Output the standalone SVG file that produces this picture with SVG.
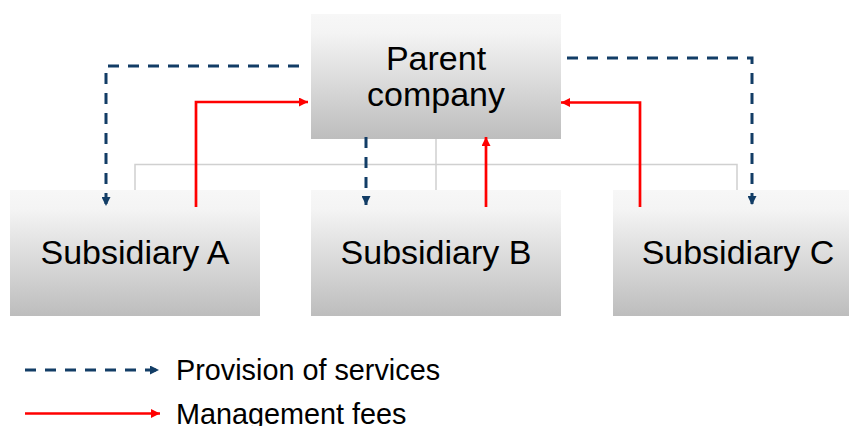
<svg xmlns="http://www.w3.org/2000/svg" width="849" height="426" viewBox="0 0 849 426">
<defs>
<linearGradient id="boxGrad" x1="0" y1="0" x2="0" y2="1">
<stop offset="0" stop-color="#f7f7f7"/>
<stop offset="0.15" stop-color="#f4f4f4"/>
<stop offset="1" stop-color="#bdbdbd"/>
</linearGradient>
<marker id="arrBlue" viewBox="0 0 10 10" refX="10" refY="5" markerWidth="9" markerHeight="9" markerUnits="userSpaceOnUse" orient="auto">
<path d="M0,0 L10,5 L0,10 z" fill="#123d66"/>
</marker>
<marker id="arrRed" viewBox="0 0 10 10" refX="10" refY="5" markerWidth="10" markerHeight="9" markerUnits="userSpaceOnUse" orient="auto">
<path d="M0,0 L10,5 L0,10 z" fill="#ff0000"/>
</marker>
</defs>
<style>
.box{fill:url(#boxGrad);}
.lbl{font-family:"Liberation Sans",Arial,sans-serif;font-size:34px;fill:#000;text-anchor:middle;}
.leg{font-family:"Liberation Sans",Arial,sans-serif;font-size:28.8px;fill:#000;}
.tree{fill:none;stroke:#d0d0d0;stroke-width:1.5;}
.svc{fill:none;stroke:#123d66;stroke-width:3;stroke-dasharray:11,9;marker-end:url(#arrBlue);}
.fee{fill:none;stroke:#ff0000;stroke-width:2.7;marker-end:url(#arrRed);}
</style>
<g id="tree-lines">
<path class="tree" d="M436,139 V164.5 M135,190 V164.5 H737 V190 M436,164.5 V190"/>
</g>
<g id="parent">
<rect class="box" x="311" y="14" width="250" height="125"/>
<text class="lbl" x="436" y="70">Parent</text>
<text class="lbl" x="436" y="106">company</text>
</g>
<g id="subA">
<rect class="box" x="10" y="190" width="250" height="126"/>
<text class="lbl" x="135" y="264">Subsidiary A</text>
</g>
<g id="subB">
<rect class="box" x="311" y="190" width="250" height="126"/>
<text class="lbl" x="436" y="264">Subsidiary B</text>
</g>
<g id="subC">
<rect class="box" x="613" y="190" width="250" height="126"/>
<text class="lbl" x="738" y="264">Subsidiary C</text>
</g>
<g id="connectors">
<path class="svc" d="M299,66 H106 V206"/>
<path class="svc" d="M366,137 V205"/>
<path class="svc" d="M567,58 H752 V205"/>
<path class="fee" d="M196,207 V102 H308"/>
<path class="fee" d="M486,207 V137"/>
<path class="fee" d="M640,207 V102.5 H561"/>
</g>
<g id="legend">
<line class="svc" x1="25" y1="370" x2="159" y2="370"/>
<text class="leg" x="176" y="380">Provision of services</text>
<line class="fee" x1="25" y1="413.5" x2="160" y2="413.5"/>
<text class="leg" x="176" y="424">Management fees</text>
</g>
</svg>
